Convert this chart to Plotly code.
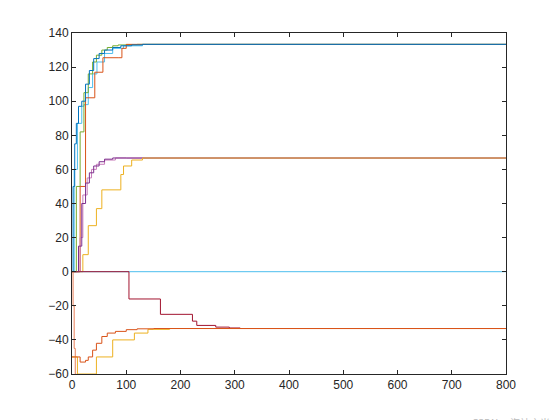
import plotly.graph_objects as go

# step series: (x breakpoints, y values), drawn with hv steps
s_top_blue_x = [0, 2, 5, 8, 12, 18, 25, 32, 40, 50, 60, 75, 90, 110, 130, 800]
s_top_blue_y = [0, 50, 75, 87, 97, 100, 110, 118, 125, 128, 130, 131.5, 132.5, 133, 133.33, 133.33]
s_top_orange_x = [0, 15, 25, 42, 57, 85, 92, 100, 800]
s_top_orange_y = [0, 50, 102, 117, 125.5, 125.5, 131, 133.33, 133.33]
s_top_green_x = [0, 8, 15, 22, 30, 38, 45, 55, 65, 75, 85, 100, 120, 800]
s_top_green_y = [0, 50, 82, 105, 116, 123, 127, 130, 131.5, 132.5, 133, 133.2, 133.33, 133.33]
s_top_lblue_x = [0, 4, 10, 18, 22, 30, 38, 46, 60, 75, 95, 130, 800]
s_top_lblue_y = [0, 60, 87, 97, 98, 108, 116, 123, 128, 131, 132.5, 133.33, 133.33]
s_mid_purple_x = [0, 12, 18, 25, 32, 40, 50, 60, 75, 100, 800]
s_mid_purple_y = [0, 15, 40, 52, 58, 62, 64.5, 66, 66.7, 66.67, 66.67]
s_mid_pink_x = [0, 15, 20, 28, 36, 45, 60, 80, 800]
s_mid_pink_y = [0, 20, 45, 55, 60, 63, 65.5, 66.67, 66.67]
s_mid_yellow_x = [0, 20, 30, 45, 55, 90, 95, 110, 130, 800]
s_mid_yellow_y = [0, 10, 27, 37, 48, 57, 62, 65.5, 66.67, 66.67]
s_zero_x = [0, 800]
s_zero_y = [0, 0]
s_dred_x = [0, 105, 163, 222, 230, 265, 290, 310, 800]
s_dred_y = [0, -16, -25, -29, -31.5, -32.5, -33, -33.33, -33.33]
s_bot_orange_x = [0, 15, 25, 30, 38, 45, 55, 65, 80, 100, 120, 150, 800]
s_bot_orange_y = [-50, -53, -52, -50, -46, -42, -38, -36, -35, -34, -33.5, -33.33, -33.33]
s_bot_salmon_x = [0, 2, 4, 6, 8, 800]
s_bot_salmon_y = [0, -20, -45, -60, -65, -65]
s_bot_yellow_x = [0, 10, 45, 75, 115, 140, 180, 800]
s_bot_yellow_y = [-50, -60, -50, -40, -36, -33.8, -33.33, -33.33]

series = [
    (s_top_lblue_x, s_top_lblue_y, '#4DBEEE'),
    (s_top_green_x, s_top_green_y, '#77AC30'),
    (s_top_orange_x, s_top_orange_y, '#D95319'),
    (s_top_blue_x, s_top_blue_y, '#0072BD'),
    (s_mid_pink_x, s_mid_pink_y, '#C77DBA'),
    (s_mid_purple_x, s_mid_purple_y, '#7E2F8E'),
    (s_mid_yellow_x, s_mid_yellow_y, '#EDB120'),
    (s_zero_x, s_zero_y, '#4DBEEE'),
    (s_dred_x, s_dred_y, '#A2142F'),
    (s_bot_salmon_x, s_bot_salmon_y, '#E8805A'),
    (s_bot_yellow_x, s_bot_yellow_y, '#EDB120'),
    (s_bot_orange_x, s_bot_orange_y, '#D95319'),
]

fig = go.Figure()
for x, y, c in series:
    fig.add_trace(go.Scatter(x=x, y=y, mode='lines', line=dict(color=c, width=1, shape='hv'),
                             showlegend=False))

ax = dict(showgrid=False, zeroline=False, showline=True, linecolor='#262626', linewidth=1,
          mirror='ticks', ticks='inside', ticklen=4, tickcolor='#262626',
          tickfont=dict(family='Liberation Sans, Arial', size=12, color='#262626'))
fig.update_xaxes(range=[0, 800], dtick=100, **ax)
fig.update_yaxes(range=[-60, 140], dtick=20, **ax)
fig.update_layout(width=560, height=420, margin=dict(l=64, r=62, t=25, b=54),
                  paper_bgcolor='white', plot_bgcolor='white')
fig.add_annotation(text='CSDN @海神之光', xref='paper', yref='paper', x=1.105, y=-0.115,
                   showarrow=False, xanchor='right', yanchor='top',
                   font=dict(family='Noto Sans CJK SC', size=10, color='#bbbbbb'))
fig.write_html('out.html')
